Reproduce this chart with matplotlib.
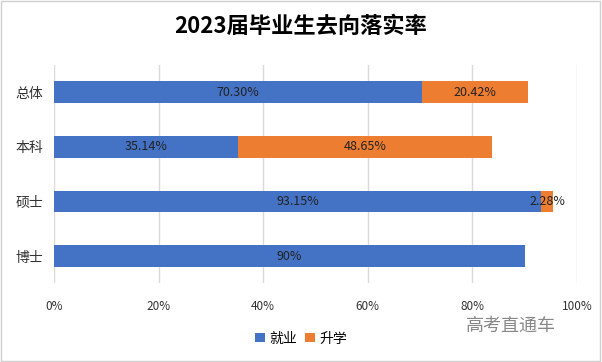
import matplotlib.pyplot as plt
from matplotlib.patches import Rectangle

plt.rcParams['font.family'] = ['Noto Sans CJK SC', 'DejaVu Sans']

# 数据
categories = ['总体', '本科', '硕士', '博士']
employed = [70.30, 35.14, 93.15, 90]
further = [20.42, 48.65, 2.28, 0]
employed_labels = ['70.30%', '35.14%', '93.15%', '90%']
further_labels = ['20.42%', '48.65%', '2.28%', '']
xticks = [0, 20, 40, 60, 80, 100]

c_blue = '#4472C4'
c_orange = '#ED7D31'

fig = plt.figure(figsize=(6.02, 3.62), dpi=100)
ax = fig.add_axes([0.0897, 0.217, 0.8688, 0.604])

y = list(range(len(categories)))
ax.barh(y, employed, height=0.4, color=c_blue, label='就业', zorder=3)
ax.barh(y, further, left=employed, height=0.4, color=c_orange, label='升学', zorder=3)

for i in y:
    ax.text(employed[i] / 2, i, employed_labels[i], ha='center', va='center',
            fontsize=9, color='#222222', zorder=4)
    if further[i] > 0:
        ax.text(employed[i] + further[i] / 2, i, further_labels[i], ha='center', va='center',
                fontsize=9, color='#222222', zorder=4)

ax.set_ylim(len(categories) - 0.5, -0.5)
ax.set_xlim(0, 100)
ax.set_yticks(y)
ax.set_yticklabels(categories, fontsize=10)
ax.set_xticks(xticks)
ax.set_xticklabels([f'{t}%' for t in xticks], fontsize=8.5)
ax.tick_params(axis='both', length=0, colors='#333333')
ax.tick_params(axis='x', pad=12)
ax.tick_params(axis='y', pad=8)
ax.grid(axis='x', color='#D9D9D9', linewidth=1, zorder=0)
for s in ax.spines.values():
    s.set_visible(False)

fig.suptitle('2023届毕业生去向落实率', x=0.5, y=0.96, fontsize=16, fontweight='bold')

fig.legend(loc='center', bbox_to_anchor=(0.5, 0.065), ncol=2, frameon=False,
           fontsize=10, handlelength=0.7, handleheight=0.7, handletextpad=0.3,
           columnspacing=0.6)

fig.text(0.848, 0.1, '高考直通车', fontsize=13, color='#888888', ha='center', va='center')

fig.patches.append(Rectangle((0.002, 0.003), 0.995, 0.994, transform=fig.transFigure,
                             fill=False, edgecolor='#D0D0D0', linewidth=1))

fig.savefig('out.png', dpi=100)
